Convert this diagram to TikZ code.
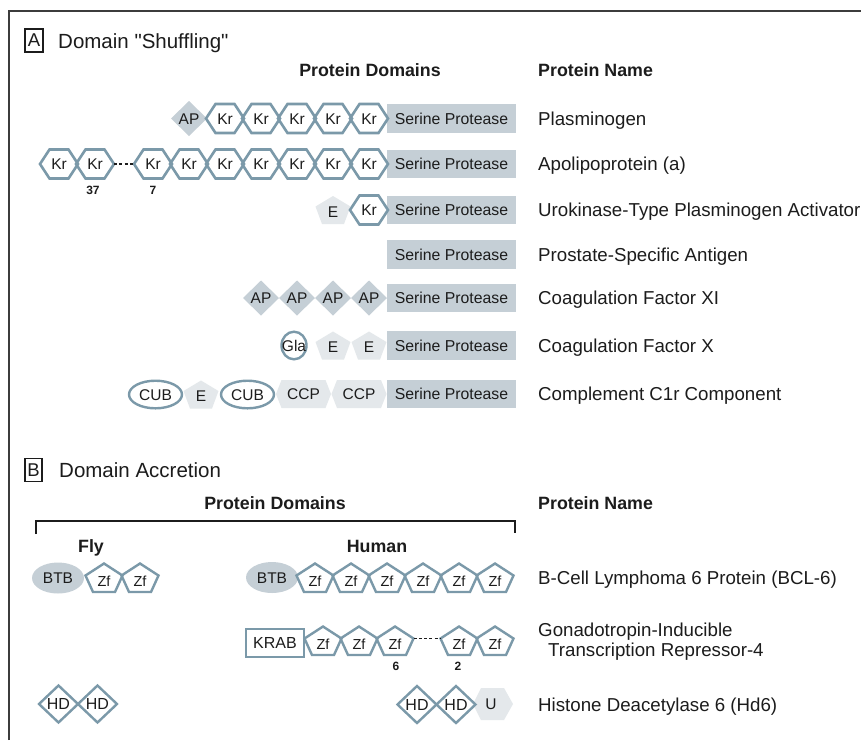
\documentclass[tikz,border=0pt]{standalone}
\usepackage{fontspec}
\setmainfont{Liberation Sans}[Ligatures=TeXOff]

\definecolor{ink}{HTML}{1C1C1C}
\definecolor{framecol}{HTML}{3C3C3C}
\definecolor{steel}{HTML}{7B99A9}
\definecolor{darkfill}{HTML}{C5CFD6}
\definecolor{lightfill}{HTML}{E4E8EB}

\tikzset{
  edge/.style={draw=steel, line width=2.6pt, line join=miter},
  dlab/.style={font=\fontsize{15.5}{17}\selectfont, text=ink, inner sep=0pt,
               text height=11.1pt, text depth=0pt},
  title/.style={font=\fontsize{20.5}{23}\selectfont, text=ink, anchor=base west, inner sep=0pt},
  head/.style={font=\bfseries\fontsize{17.8}{20}\selectfont, text=ink, inner sep=0pt,
               text height=12.8pt, text depth=0pt},
  pname/.style={font=\fontsize{18.7}{21}\selectfont, text=ink, anchor=base west, inner sep=0pt},
  count/.style={font=\bfseries\fontsize{12}{14}\selectfont, text=ink, inner sep=0pt},
  protease/.style={fill=darkfill, minimum width=129pt, minimum height=28.5pt, inner sep=0pt,
                   font=\fontsize{15.8}{18}\selectfont, text=ink, text height=11.3pt, text depth=0pt},
  gap/.style={draw=ink, line width=1.1pt, dash pattern=on 3pt off 2.2pt},
  frame/.style={draw=framecol, line width=1.6pt},
}

% Kringle: hexagon with pointed ends
\newcommand\DomKr[3]{%
  \begin{scope}[shift={(#2,#3)}]
    \draw[edge] (-19,0) -- (-9.5,-14.5) -- (9.5,-14.5) -- (19,0) -- (9.5,14.5) -- (-9.5,14.5) -- cycle;
  \end{scope}
  \node[dlab, minimum width=38pt] (#1) at (#2,#3) {Kr};}

% Apple domain: filled diamond
\newcommand\DomAP[3]{%
  \fill[darkfill] (#2-18,#3) -- (#2,#3-17.5) -- (#2+18,#3) -- (#2,#3+17.5) -- cycle;
  \node[dlab, minimum width=36pt] (#1) at (#2,#3) {AP};}

% EGF domain: filled pentagon
\newcommand\DomE[3]{%
  \begin{scope}[shift={(#2,#3)}]
    \fill[lightfill] (0,-14) -- (17.5,-3.5) -- (11,14) -- (-11,14) -- (-17.5,-3.5) -- cycle;
  \end{scope}
  \node[dlab, minimum width=35pt] (#1) at (#2,#3+1.5) {E};}

% Complement control protein domain
\newcommand\DomCCP[3]{%
  \begin{scope}[shift={(#2,#3)}]
    \fill[lightfill] (-27.5,0) -- (-22,-14) -- (22,-14) -- (27.5,0) -- (22,14) -- (-22,14) -- cycle;
  \end{scope}
  \node[dlab, minimum width=55pt] (#1) at (#2,#3) {CCP};}

% CUB domain: outlined ellipse
\newcommand\DomCUB[3]{%
  \draw[edge, line width=2.4pt] (#2,#3) ellipse [x radius=26.5, y radius=13.8];
  \node[dlab, minimum width=53pt] (#1) at (#2,#3) {CUB};}

% Zinc finger: outlined pentagon
\newcommand\DomZf[3]{%
  \begin{scope}[shift={(#2,#3)}]
    \draw[edge, line width=2.4pt] (0,-14.5) -- (18.5,-2.5) -- (11,14) -- (-11,14) -- (-18.5,-2.5) -- cycle;
  \end{scope}
  \node[dlab, font=\fontsize{14.5}{16}\selectfont, minimum width=37pt] (#1) at (#2,#3+2.5) {Zf};}

% BTB domain: filled ellipse
\newcommand\DomBTB[3]{%
  \fill[darkfill] (#2,#3) ellipse [x radius=26, y radius=15.5];
  \node[dlab] (#1) at (#2,#3) {BTB};}

% Homeodomain: outlined diamond
\newcommand\DomHD[3]{%
  \filldraw[edge, fill=white, line width=2.4pt] (#2-19.5,#3) -- (#2,#3-18.5) -- (#2+19.5,#3) -- (#2,#3+18.5) -- cycle;
  \node[dlab, font=\fontsize{16}{18}\selectfont, minimum width=39pt] (#1) at (#2,#3) {HD};}

\begin{document}
\begin{tikzpicture}[x=1pt, y=-1pt]
\useasboundingbox[fill=white] (0,0) rectangle (861,740);

% outer frame (open at right and bottom)
\draw[frame] (9,740) -- (9,11) -- (861,11);

% ================= Panel A =================
\node[draw=ink, line width=1.1pt, minimum width=18pt, minimum height=23pt, inner sep=0pt,
      font=\fontsize{18.5}{20}\selectfont, text=ink] (boxA) at (34,40.5) {A};
\node[title] (titleA) at (58,48) {Domain "Shuffling"};
\node[head] (domA) at (370,70.5) {Protein Domains};
\node[head, anchor=west] (nameA) at (538,70.5) {Protein Name};

% Plasminogen
\node[protease] (sp1) at (451.5,118.5) {Serine Protease};
\DomAP{p1ap}{189}{118.5}
\DomKr{p1k1}{225}{118.5}
\DomKr{p1k2}{261}{118.5}
\DomKr{p1k3}{297}{118.5}
\DomKr{p1k4}{333}{118.5}
\DomKr{p1k5}{369}{118.5}
\node[pname] (n1) at (538,125) {Plasminogen};

% Apolipoprotein (a)
\node[protease] (sp2) at (451.5,164) {Serine Protease};
\DomKr{p2k1}{59}{164}
\DomKr{p2k2}{95}{164}
\DomKr{p2k3}{153}{164}
\DomKr{p2k4}{189}{164}
\DomKr{p2k5}{225}{164}
\DomKr{p2k6}{261}{164}
\DomKr{p2k7}{297}{164}
\DomKr{p2k8}{333}{164}
\DomKr{p2k9}{369}{164}
\draw[gap] (p2k2.east) -- (p2k3.west);
\node[count] (c37) at (93,190) {37};
\node[count] (c7) at (153,190) {7};
\node[pname] (n2) at (538,170.5) {Apolipoprotein (a)};

% Urokinase-type plasminogen activator
\node[protease] (sp3) at (451.5,210) {Serine Protease};
\DomE{p3e}{333}{210}
\DomKr{p3k}{369}{210}
\node[pname] (n3) at (538,216.5) {Urokinase-Type Plasminogen Activator};

% Prostate-specific antigen
\node[protease] (sp4) at (451.5,254.5) {Serine Protease};
\node[pname] (n4) at (538,261) {Prostate-Specific Antigen};

% Coagulation factor XI
\node[protease] (sp5) at (451.5,298) {Serine Protease};
\DomAP{p5a1}{261}{298}
\DomAP{p5a2}{297}{298}
\DomAP{p5a3}{333}{298}
\DomAP{p5a4}{369}{298}
\node[pname] (n5) at (538,304.5) {Coagulation Factor XI};

% Coagulation factor X
\node[protease] (sp6) at (451.5,345.5) {Serine Protease};
\draw[edge, line width=2.4pt] (294,345.5) ellipse [x radius=12.5, y radius=13.8];
\node[dlab] (p6g) at (294,345.5) {Gla};
\DomE{p6e1}{333}{345.5}
\DomE{p6e2}{369}{345.5}
\node[pname] (n6) at (538,352) {Coagulation Factor X};

% Complement C1r
\node[protease] (sp7) at (451.5,394) {Serine Protease};
\DomCUB{p7c1}{155.5}{394.5}
\DomE{p7e}{201}{394.5}
\DomCUB{p7c2}{247.5}{394.5}
\DomCCP{p7p1}{303.5}{394}
\DomCCP{p7p2}{359}{394}
\node[pname] (n7) at (538,400.5) {Complement C1r Component};

% ================= Panel B =================
\node[draw=ink, line width=1.1pt, minimum width=17pt, minimum height=23pt, inner sep=0pt,
      font=\fontsize{18.5}{20}\selectfont, text=ink] (boxB) at (33.5,470) {B};
\node[title] (titleB) at (59,477.5) {Domain Accretion};
\node[head] (domB) at (275,503) {Protein Domains};
\node[head, anchor=west] (nameB) at (538,503) {Protein Name};
\draw[draw=ink, line width=1.3pt] (36,534) -- (36,521) -- (515,521) -- (515,533);
\node[head] (fly) at (91,546) {Fly};
\node[head] (human) at (377,546) {Human};

% BCL-6
\DomBTB{f1b}{58}{578}
\DomZf{f1z1}{104}{578}
\DomZf{f1z2}{140}{578}
\DomBTB{h1b}{272}{577.5}
\DomZf{h1z1}{315}{578}
\DomZf{h1z2}{351}{578}
\DomZf{h1z3}{387}{578}
\DomZf{h1z4}{423}{578}
\DomZf{h1z5}{459}{578}
\DomZf{h1z6}{495}{578}
\node[pname] (m1) at (538,584.5) {B-Cell Lymphoma 6 Protein (BCL-6)};

% GIOT-4
\node[draw=steel, line width=2pt, minimum width=58pt, minimum height=28pt, inner sep=0pt,
      font=\fontsize{16}{18}\selectfont, text=ink, text height=11.5pt, text depth=0pt] (krab) at (275,642.5) {KRAB};
\DomZf{h2z1}{323}{641}
\DomZf{h2z2}{359}{641}
\DomZf{h2z3}{395}{641}
\DomZf{h2z4}{459}{641}
\DomZf{h2z5}{495}{641}
\draw[gap] ([yshift=5pt]h2z3.east) -- ([yshift=5pt]h2z4.west);
\node[count] (c6) at (396,666) {6};
\node[count] (c2) at (458,666) {2};
\node[pname] (m2a) at (538,636.5) {Gonadotropin-Inducible};
\node[pname] (m2b) at (548,656.5) {Transcription Repressor-4};

% Hd6
\DomHD{f3h1}{58.5}{704}
\DomHD{f3h2}{97.5}{704}
\begin{scope}[shift={(493,704)}]
  \fill[lightfill] (-20,0) -- (-12,-16) -- (11,-16) -- (20,0) -- (11,16) -- (-12,16) -- cycle;
\end{scope}
\node[dlab] (h3u) at (491,704) {U};
\DomHD{h3h1}{417}{704.5}
\DomHD{h3h2}{456}{704.5}
\node[pname] (m3) at (538,711) {Histone Deacetylase 6 (Hd6)};

\end{tikzpicture}
\end{document}
